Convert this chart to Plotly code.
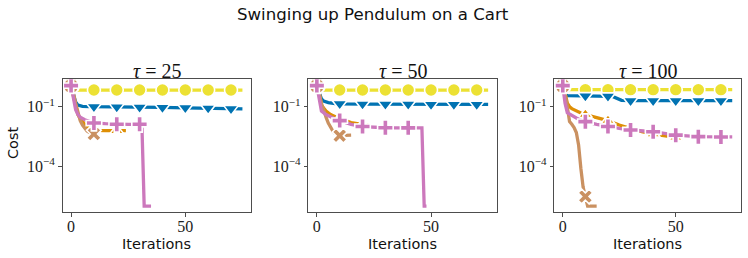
import plotly.graph_objects as go

# ---------------- data ----------------
taus = [25, 50, 100]
x_tick_vals = [0, 50]
y_tick_vals = [1e-1, 1e-4]
y_tick_text = ["10<sup>\u22121</sup>", "10<sup>\u22124</sup>"]

# tau = 25
yellow25_x = [0, 1, 2, 10, 20, 30, 40, 50, 60, 70, 75]
yellow25_y = [1.0, 0.72, 0.69, 0.69, 0.69, 0.69, 0.69, 0.69, 0.69, 0.69, 0.69]
blue25_x = [0, 1, 2, 3, 5, 8, 10, 20, 30, 40, 50, 60, 70, 75]
blue25_y = [1.1, 0.45, 0.17, 0.12, 0.105, 0.1, 0.1, 0.098, 0.095, 0.092, 0.088, 0.085, 0.08, 0.078]
orange25_x = [0, 1, 2, 3, 4, 5, 6, 8, 10, 15, 20, 24]
orange25_y = [1.1, 0.4, 0.1, 0.04, 0.025, 0.018, 0.013, 0.008, 0.0065, 0.0063, 0.0062, 0.0062]
brown25_x = [0, 1, 2, 3, 4, 5, 6, 7, 8, 10, 12]
brown25_y = [1.1, 0.5, 0.15, 0.05, 0.02, 0.012, 0.008, 0.006, 0.005, 0.0042, 0.0042]
pink25_x = [0, 1, 2, 3, 4, 6, 8, 10, 15, 20, 25, 30, 31, 32, 35]
pink25_y = [1.15, 0.3, 0.07, 0.04, 0.03, 0.022, 0.018, 0.015, 0.014, 0.013, 0.013, 0.013, 0.012, 1e-6, 1e-6]

# tau = 50
yellow50_x = [0, 1, 2, 10, 20, 30, 40, 50, 60, 70, 75]
yellow50_y = [1.0, 0.72, 0.69, 0.69, 0.69, 0.69, 0.69, 0.69, 0.69, 0.69, 0.69]
blue50_x = [0, 1, 2, 3, 5, 8, 10, 20, 30, 40, 50, 60, 70, 75]
blue50_y = [1.1, 0.5, 0.25, 0.19, 0.16, 0.145, 0.14, 0.135, 0.133, 0.132, 0.131, 0.13, 0.13, 0.13]
orange50_x = [0, 1, 2, 3, 4, 6, 8, 10, 15, 20, 23]
orange50_y = [1.1, 0.5, 0.12, 0.08, 0.06, 0.04, 0.03, 0.025, 0.016, 0.012, 0.011]
brown50_x = [0, 1, 2, 3, 4, 5, 6, 7, 8, 10, 12, 15]
brown50_y = [1.1, 0.5, 0.15, 0.06, 0.03, 0.015, 0.009, 0.006, 0.0045, 0.0035, 0.0036, 0.0037]
pink50_x = [0, 1, 2, 4, 6, 8, 10, 15, 20, 25, 30, 40, 45, 46, 47, 48]
pink50_y = [1.15, 0.2, 0.06, 0.04, 0.03, 0.024, 0.02, 0.013, 0.01, 0.009, 0.0087, 0.0086, 0.0085, 0.0085, 1e-6, 1e-6]

# tau = 100
yellow100_x = [0, 1, 2, 10, 20, 30, 40, 50, 60, 70, 75]
yellow100_y = [1.0, 0.75, 0.72, 0.72, 0.72, 0.72, 0.72, 0.72, 0.72, 0.72, 0.72]
blue100_x = [0, 1, 2, 10, 20, 22, 26, 30, 40, 50, 60, 70, 75]
blue100_y = [1.1, 0.42, 0.36, 0.35, 0.34, 0.33, 0.21, 0.2, 0.2, 0.2, 0.2, 0.2, 0.2]
orange100_x = [0, 1, 2, 3, 4, 6, 8, 10, 15, 20, 25, 30, 35, 40, 45, 50]
orange100_y = [1.1, 0.5, 0.15, 0.1, 0.08, 0.06, 0.048, 0.04, 0.028, 0.02, 0.012, 0.008, 0.0055, 0.0042, 0.0034, 0.0029]
brown100_x = [0, 1, 2, 3, 4, 5, 6, 7, 8, 9, 10, 11, 15]
brown100_y = [1.1, 0.5, 0.1, 0.018, 0.013, 0.009, 0.005, 0.0012, 0.00008, 0.000009, 0.000003, 0.000001, 0.000001]
pink100_x = [0, 1, 2, 4, 6, 8, 10, 15, 20, 25, 30, 40, 50, 60, 70, 75]
pink100_y = [1.15, 0.15, 0.05, 0.035, 0.027, 0.021, 0.0177, 0.013, 0.01, 0.008, 0.0067, 0.0055, 0.0037, 0.0031, 0.003, 0.003]

panels = [
    [(yellow25_x, yellow25_y), (blue25_x, blue25_y), (orange25_x, orange25_y), (brown25_x, brown25_y), (pink25_x, pink25_y)],
    [(yellow50_x, yellow50_y), (blue50_x, blue50_y), (orange50_x, orange50_y), (brown50_x, brown50_y), (pink50_x, pink50_y)],
    [(yellow100_x, yellow100_y), (blue100_x, blue100_y), (orange100_x, orange100_y), (brown100_x, brown100_y), (pink100_x, pink100_y)],
]

# ---------------- styles ----------------
colors = ["#ece133", "#0173b2", "#de8f05", "#ca9161", "#cc78bc"]
symbols = ["circle", "triangle-down", "triangle-up", "x", "cross"]
msizes = [13, 13, 12, 13, 13]

W, H = 748, 258
x_doms = [(62.5, 251), (308.3, 496.7), (554.3, 740.7)]
y_dom = (79.3, 212.3)
serif = "Liberation Serif"
sans = "DejaVu Sans"
axis_col = "#4d4d4d"

fig = go.Figure()
for p, series in enumerate(panels):
    xa = "x" if p == 0 else f"x{p+1}"
    ya = "y" if p == 0 else f"y{p+1}"
    for s, (xs, ys) in enumerate(series):
        fig.add_trace(go.Scatter(x=xs, y=ys, mode="lines", xaxis=xa, yaxis=ya,
                                 line=dict(color=colors[s], width=3.3),
                                 showlegend=False, hoverinfo="skip"))
        mx = [x for x in xs if x % 10 == 0]
        my = [y for x, y in zip(xs, ys) if x % 10 == 0]
        fig.add_trace(go.Scatter(x=mx, y=my, mode="markers", xaxis=xa, yaxis=ya,
                                 marker=dict(color=colors[s], symbol=symbols[s], size=msizes[s],
                                             line=dict(color="white", width=1.6)),
                                 showlegend=False, hoverinfo="skip"))

layout = dict(width=W, height=H, margin=dict(l=0, r=0, t=0, b=0, pad=0),
              paper_bgcolor="white", plot_bgcolor="white", showlegend=False)
annotations = []
for p in range(3):
    xk = "xaxis" if p == 0 else f"xaxis{p+1}"
    yk = "yaxis" if p == 0 else f"yaxis{p+1}"
    x0, x1 = x_doms[p]
    layout[xk] = dict(domain=[x0 / W, x1 / W], range=[-3.75, 78.75], anchor="y" if p == 0 else f"y{p+1}",
                      automargin=False, ticklabelstandoff=-4,
                      tickvals=x_tick_vals, ticks="outside", ticklen=3.5, tickcolor=axis_col,
                      showline=True, linecolor=axis_col, linewidth=1, mirror=True,
                      showgrid=False, zeroline=False,
                      tickfont=dict(family=serif, size=16, color="#222"))
    layout[yk] = dict(domain=[1 - y_dom[1] / H, 1 - y_dom[0] / H], type="log", range=[-6.315, 0.379],
                      anchor="x" if p == 0 else f"x{p+1}", automargin=False,
                      tickvals=y_tick_vals, ticktext=y_tick_text, ticks="outside", ticklen=3.5,
                      tickcolor=axis_col, showline=True, linecolor=axis_col, linewidth=1, mirror=True,
                      showgrid=False, zeroline=False,
                      tickfont=dict(family=serif, size=16, color="#222"))
    cx = (x0 + x1) / 2 / W
    annotations.append(dict(text=f"<i>\u03c4</i> = {taus[p]}", x=cx, y=1 - 70.5 / H, xref="paper", yref="paper",
                            showarrow=False, xanchor="center", yanchor="middle",
                            font=dict(family=serif, size=20, color="#111")))
    annotations.append(dict(text="Iterations", x=cx, y=1 - 244 / H, xref="paper", yref="paper",
                            showarrow=False, xanchor="center", yanchor="middle",
                            font=dict(family=sans, size=14.5, color="#111")))
annotations.append(dict(text="Cost", x=13 / W, y=1 - 143 / H, xref="paper", yref="paper", textangle=-90,
                        showarrow=False, xanchor="center", yanchor="middle",
                        font=dict(family=sans, size=14.5, color="#111")))
annotations.append(dict(text="Swinging up Pendulum on a Cart", x=373 / W, y=1 - 15 / H, xref="paper", yref="paper",
                        showarrow=False, xanchor="center", yanchor="middle",
                        font=dict(family=sans, size=16.6, color="#111")))
layout["annotations"] = annotations
fig.update_layout(**layout)
fig.write_html("out.html", config={"displayModeBar": False, "staticPlot": True},
               post_script="document.body.style.margin='0';document.body.style.overflow='hidden';")
